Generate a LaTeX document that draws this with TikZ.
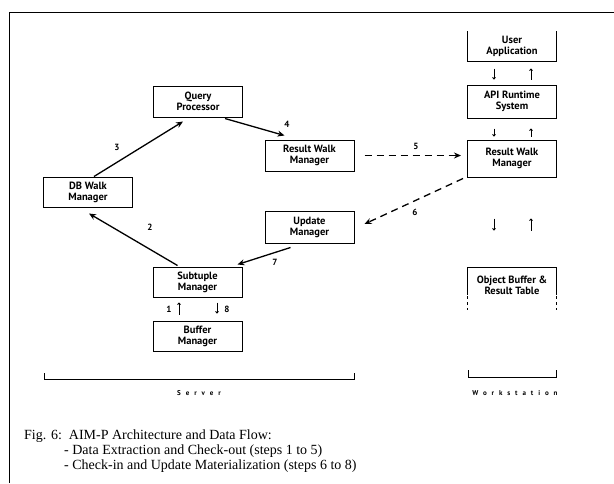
\documentclass[tikz,border=0pt]{standalone}
\usepackage{fontspec}
\setmainfont{Liberation Serif}
\newfontfamily\boxfont{PT Sans}
\newfontfamily\spacedfont[LetterSpace=70]{PT Sans}
\usetikzlibrary{arrows.meta}

\begin{document}
\begin{tikzpicture}[x=1pt,y=-1pt,
  box/.style={draw, line width=1pt, minimum width=89pt, minimum height=31pt,
    align=center, inner sep=0pt,
    font=\boxfont\bfseries\fontsize{10.5}{11}\selectfont},
  plain/.style={box, draw=none},
  arr/.style={-{Stealth[length=7pt,width=6pt]}, line width=1.3pt},
  dasharr/.style={arr, dash pattern=on 7pt off 5pt},
  tiny/.style={-{To[length=2.5pt,width=3.5pt]}, line width=0.9pt},
  num/.style={font=\boxfont\bfseries\fontsize{9}{10}\selectfont, inner sep=0pt},
  side/.style={font=\spacedfont\bfseries\fontsize{7}{8}\selectfont, inner sep=0pt},
  frame/.style={line width=1pt}
]
\useasboundingbox (0,0) rectangle (614,483);

% outer frame (top and left edges only)
\draw[frame] (614,12) -- (9,12) -- (9,483);

% workstation side
\node[plain, minimum height=30pt] (ua) at (512,46) {User\\Application};
\draw[frame] (467.5,31) -- (467.5,61) -- (556.5,61) -- (556.5,31);
\node[box, minimum height=33pt] (api) at (512,101.5) {API Runtime\\System};
\node[box, minimum height=37pt] (rwmw) at (512,158.5) {Result Walk\\Manager};
\node[plain, minimum height=24pt] (obuf) at (512,285) {Object Buffer \&\\Result Table};
\draw[frame] (467.5,295) -- (467.5,267) -- (556.5,267) -- (556.5,295);
\draw[frame, dash pattern=on 3pt off 3pt] (467.5,296) -- (467.5,310);
\draw[frame, dash pattern=on 3pt off 3pt] (556.5,296) -- (556.5,310);

% server side
\node[box] (qp) at (198,101.5) {Query\\Processor};
\node[box] (rwms) at (309.5,155.5) {Result Walk\\Manager};
\node[box, minimum height=30pt] (dbw) at (88,192) {DB Walk\\Manager};
\node[box, minimum height=32pt] (upd) at (309.5,227) {Update\\Manager};
\node[box, minimum height=30pt] (sub) at (197.5,282) {Subtuple\\Manager};
\node[box, minimum height=30pt] (buf) at (197.5,336) {Buffer\\Manager};

% data flow, steps 1 to 8
\draw[arr] ([xshift=6pt]dbw.north) -- ([xshift=-15pt,yshift=-4pt]qp.south);
\draw[arr] ([xshift=27pt,yshift=-1pt]qp.south) -- ([xshift=-25pt,yshift=4pt]rwms.north);
\draw[dasharr] ([xshift=10pt]rwms.east) -- ([xshift=-6pt]rwmw.west |- rwms.east);
\draw[dasharr] ([xshift=-4pt,yshift=-1pt]rwmw.south west) -- ([xshift=10pt,yshift=3pt]upd.east);
\draw[arr] ([xshift=-19pt,yshift=-4pt]upd.south) -- ([xshift=-5pt,yshift=2pt]sub.north east);
\draw[arr] ([xshift=-20pt,yshift=1pt]sub.north) -- ([xshift=1pt,yshift=-6pt]dbw.south);

\node[num] (n3) at (117,147) {3};
\node[num] (n4) at (287,124) {4};
\node[num] (n5) at (416,146) {5};
\node[num] (n6) at (415,212) {6};
\node[num] (n7) at (275,262) {7};
\node[num] (n2) at (150,227) {2};

% subtuple / buffer exchange
\draw[tiny] ([xshift=-18.5pt,yshift=6pt]buf.north) -- ([xshift=-18.5pt,yshift=-5pt]sub.south);
\draw[tiny] ([xshift=19.5pt,yshift=-5pt]sub.south) -- ([xshift=19.5pt,yshift=7pt]buf.north);
\node[num] (n1) at (169,309) {1};
\node[num] (n8) at (227,309) {8};

% workstation layer arrows
\draw[tiny] ([xshift=-18pt,yshift=-7pt]ua.south) -- ([xshift=-18pt,yshift=5pt]api.north);
\draw[tiny] ([xshift=19pt,yshift=5pt]api.north) -- ([xshift=19pt,yshift=-7pt]ua.south);
\draw[tiny] ([xshift=-18pt,yshift=-10pt]api.south) -- ([xshift=-18pt,yshift=3pt]rwmw.north);
\draw[tiny] ([xshift=19pt,yshift=3pt]rwmw.north) -- ([xshift=19pt,yshift=-10pt]api.south);
\draw[tiny] ([xshift=-18pt,yshift=-41pt]rwmw.south) -- ([xshift=-18pt,yshift=-53pt]rwmw.south);
\draw[tiny] ([xshift=19pt,yshift=-53pt]rwmw.south) -- ([xshift=19pt,yshift=-41pt]rwmw.south);

% side brackets
\draw[frame] (44,373) -- (44,379) -- (354,379) -- (354,373);
\draw[frame] (468,370) -- (468,377) -- (556,377) -- (556,370);
\node[side] (srv) at (199,393) {Server};
\node[side] (ws) at (515,393) {Workstation};

% caption
\node[anchor=north west, align=left, inner sep=0pt,
      font=\fontsize{14}{15}\selectfont] (cap) at (24,430)
  {Fig. 6:\ \ AIM-P Architecture and Data Flow:\\
   \hspace*{40pt}- Data Extraction and Check-out (steps 1 to 5)\\
   \hspace*{40pt}- Check-in and Update Materialization (steps 6 to 8)};
\end{tikzpicture}
\end{document}
